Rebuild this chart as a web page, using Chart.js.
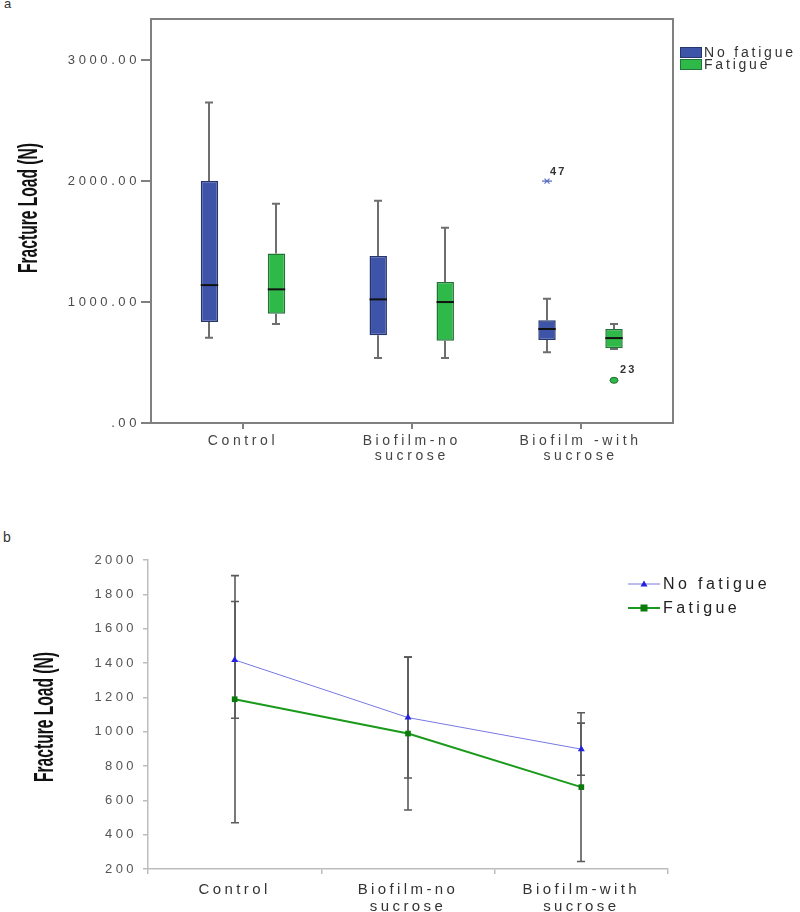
<!DOCTYPE html>
<html><head><meta charset="utf-8">
<script src="https://cdn.jsdelivr.net/npm/chart.js@4/dist/chart.umd.min.js"></script>
<style>
html,body{margin:0;padding:0;background:#fff;width:800px;height:912px;overflow:hidden;position:relative;}
canvas{position:absolute;left:0;}
#ca{top:0;} #cb{top:520px;}
.lab{position:absolute;font-family:Arial,'Liberation Sans',sans-serif;color:#333;letter-spacing:1px;}
</style></head>
<body>
<div class="lab" style="left:4px;top:-4px;font-size:13px;">a</div>
<div class="lab" style="left:3px;top:529px;font-size:14px;">b</div>
<canvas id="ca" width="800" height="470" style="width:800px;height:470px"></canvas>
<canvas id="cb" width="800" height="392" style="width:800px;height:392px"></canvas>
<script>
// ---------- data ----------
const seriesNames = ['No fatigue', 'Fatigue'];
const boxCategoryLabels = [['Control'], ['Biofilm-no', 'sucrose'], ['Biofilm -with', 'sucrose']];
const lineCategoryLabels = [['Control'], ['Biofilm-no', 'sucrose'], ['Biofilm-with', 'sucrose']];

// panel a: box plot (Fracture Load, N)
const noFatigueMin    = [705, 537, 584];
const noFatigueQ1     = [835, 725, 686];
const noFatigueMedian = [1140, 1022, 777];
const noFatigueQ3     = [2000, 1380, 849];
const noFatigueMax    = [2650, 1837, 1027];
const fatigueMin      = [818, 537, 612];
const fatigueQ1       = [903, 680, 617];
const fatigueMedian   = [1105, 1000, 702];
const fatigueQ3       = [1402, 1165, 777];
const fatigueMax      = [1812, 1614, 818];
const outlierSeries   = [0, 1];
const outlierCategory = [2, 2];
const outlierValues   = [2000, 353];
const outlierCases    = ['47', '23'];
const outlierKinds    = ['extreme', 'outlier'];
const boxTicks        = [0, 1000, 2000, 3000];

// panel b: means with error bars
const meanNoFatigue = [1418, 1082, 898];
const meanFatigue   = [1189, 989, 677];
const errNoFatigue  = [340, 352, 152];
const errFatigue    = [720, 445, 433];
const lineTicks     = [200, 400, 600, 800, 1000, 1200, 1400, 1600, 1800, 2000];

// ---------- helpers ----------
const FONT = "Arial, 'Liberation Sans', sans-serif";
Chart.defaults.font.family = FONT;

function spacingPlugin(sp) {
  return {
    id: 'spacing',
    afterInit(c) { c.ctx.letterSpacing = sp; },
    beforeUpdate(c) { c.ctx.letterSpacing = sp; },
    beforeDraw(c) { c.ctx.letterSpacing = sp; }
  };
}
function fixAxis(size) {
  return s => {
    if (s.isHorizontal()) s.height = size; else s.width = size;
    s.paddingTop = 0; s.paddingBottom = 0; s.paddingLeft = 0; s.paddingRight = 0;
  };
}
function yTitlePlugin(text, cx, cy, len, across) {
  return {
    id: 'ytitle',
    afterDraw(chart) {
      const ctx = chart.ctx;
      ctx.save();
      ctx.letterSpacing = '0px';
      ctx.font = 'bold 16px ' + FONT;
      const w = ctx.measureText(text).width;
      ctx.translate(cx, cy);
      ctx.rotate(-Math.PI / 2);
      ctx.scale(len / w, across);
      ctx.fillStyle = '#111';
      ctx.textAlign = 'center';
      ctx.textBaseline = 'middle';
      ctx.fillText(text, 0, 0);
      ctx.restore();
    }
  };
}

// ---------- chart a ----------
const boxStats = [
  {min: noFatigueMin, q1: noFatigueQ1, med: noFatigueMedian, q3: noFatigueQ3, max: noFatigueMax},
  {min: fatigueMin, q1: fatigueQ1, med: fatigueMedian, q3: fatigueQ3, max: fatigueMax}
];
const boxColors = ['#3e54a8', '#2fb948'];
const boxBorders = ['#25356e', '#22733a'];

const boxExtras = {
  id: 'boxExtras',
  beforeDatasetsDraw(chart) {
    const ctx = chart.ctx, ys = chart.scales.y;
    ctx.save();
    ctx.strokeStyle = '#6e6e6e';
    ctx.lineWidth = 2;
    boxStats.forEach((st, d) => {
      chart.getDatasetMeta(d).data.forEach((bar, i) => {
        const x = Math.round(bar.x);
        const yMax = ys.getPixelForValue(st.max[i]), yQ3 = ys.getPixelForValue(st.q3[i]);
        const yMin = ys.getPixelForValue(st.min[i]), yQ1 = ys.getPixelForValue(st.q1[i]);
        ctx.beginPath();
        ctx.moveTo(x, yQ3); ctx.lineTo(x, yMax);
        ctx.moveTo(x - 4, yMax); ctx.lineTo(x + 4, yMax);
        ctx.moveTo(x, yQ1); ctx.lineTo(x, yMin);
        ctx.moveTo(x - 4, yMin); ctx.lineTo(x + 4, yMin);
        ctx.stroke();
      });
    });
    ctx.restore();
  },
  afterDatasetsDraw(chart) {
    const ctx = chart.ctx, ys = chart.scales.y, a = chart.chartArea;
    ctx.save();
    // medians
    ctx.strokeStyle = '#111';
    ctx.lineWidth = 2;
    boxStats.forEach((st, d) => {
      chart.getDatasetMeta(d).data.forEach((bar, i) => {
        const y = ys.getPixelForValue(st.med[i]);
        ctx.beginPath();
        ctx.moveTo(bar.x - bar.width / 2, y);
        ctx.lineTo(bar.x + bar.width / 2, y);
        ctx.stroke();
      });
    });
    // outliers
    outlierValues.forEach((v, k) => {
      const bar = chart.getDatasetMeta(outlierSeries[k]).data[outlierCategory[k]];
      const x = bar.x, y = ys.getPixelForValue(v);
      if (outlierKinds[k] === 'extreme') {
        ctx.strokeStyle = '#5a6fc0';
        ctx.lineWidth = 1.2;
        ctx.beginPath();
        ctx.moveTo(x - 5, y); ctx.lineTo(x + 5, y);
        ctx.moveTo(x - 2.5, y - 2.5); ctx.lineTo(x + 2.5, y + 2.5);
        ctx.moveTo(x + 2.5, y - 2.5); ctx.lineTo(x - 2.5, y + 2.5);
        ctx.stroke();
        ctx.fillStyle = '#333';
        ctx.font = 'bold 11px ' + FONT;
        ctx.textAlign = 'left';
        ctx.textBaseline = 'middle';
        ctx.letterSpacing = '2px';
        ctx.fillText(outlierCases[k], x + 3, y - 9);
      } else {
        ctx.fillStyle = boxColors[outlierSeries[k]];
        ctx.strokeStyle = '#1f6b33';
        ctx.lineWidth = 1;
        ctx.beginPath();
        ctx.ellipse(x, y, 4, 3, 0, 0, Math.PI * 2);
        ctx.fill(); ctx.stroke();
        ctx.fillStyle = '#333';
        ctx.font = 'bold 11px ' + FONT;
        ctx.textAlign = 'left';
        ctx.textBaseline = 'middle';
        ctx.letterSpacing = '2px';
        ctx.fillText(outlierCases[k], x + 6, y - 10);
      }
    });
    // frame
    ctx.strokeStyle = '#808080';
    ctx.lineWidth = 2;
    ctx.strokeRect(a.left, a.top, a.right - a.left, a.bottom - a.top);
    ctx.restore();
  },
  afterDraw(chart) {
    const ctx = chart.ctx, a = chart.chartArea;
    ctx.save();
    const lx = a.right + 7, ly = 47;
    seriesNames.forEach((name, i) => {
      const y = ly + i * 12;
      ctx.fillStyle = boxColors[i];
      ctx.fillRect(lx, y, 22, 11);
      ctx.strokeStyle = boxBorders[i];
      ctx.lineWidth = 1;
      ctx.strokeRect(lx + 0.5, y + 0.5, 21, 10);
      ctx.fillStyle = '#333';
      ctx.font = '14px ' + FONT;
      ctx.letterSpacing = '2.8px';
      ctx.textAlign = 'left';
      ctx.textBaseline = 'middle';
      ctx.fillText(name, lx + 24, y + 6);
    });
    ctx.restore();
  }
};

new Chart(document.getElementById('ca'), {
  type: 'bar',
  data: {
    datasets: seriesNames.map((name, d) => ({
      label: name,
      data: boxStats[d].q1.map((q1, i) => ({x: i, y: [q1, boxStats[d].q3[i]]})),
      backgroundColor: boxColors[d],
      borderColor: boxBorders[d],
      borderWidth: 1.5,
      borderSkipped: false,
      categoryPercentage: 0.794,
      barPercentage: 0.26
    }))
  },
  options: {
    responsive: false,
    animation: false,
    events: [],
    layout: {padding: {left: 0, top: 19, right: 127, bottom: 0}},
    plugins: {legend: {display: false}, tooltip: {enabled: false}},
    scales: {
      x: {
        type: 'linear',
        min: -0.545, max: 2.548,
        offset: false,
        afterBuildTicks: s => { s.ticks = boxCategoryLabels.map((c, i) => ({value: i})); },
        afterFit: fixAxis(47),
        border: {display: false},
        grid: {display: true, drawOnChartArea: false, offset: false, tickLength: 6, color: '#808080', lineWidth: 2},
        ticks: {
          callback: v => boxCategoryLabels[v],
          color: '#444',
          font: {size: 14, lineHeight: 1.1},
          padding: 4,
          maxRotation: 0,
          autoSkip: false
        }
      },
      y: {
        min: 0, max: 3340,
        afterBuildTicks: s => { s.ticks = boxTicks.map(v => ({value: v})); },
        afterFit: fixAxis(151),
        border: {display: false},
        grid: {display: true, drawOnChartArea: false, tickLength: 10, color: '#808080', lineWidth: 2},
        ticks: {
          callback: v => (v === 0 ? '.00' : v.toFixed(2)),
          color: '#4a4a4a',
          font: {size: 13},
          padding: 1
        }
      }
    }
  },
  plugins: [spacingPlugin('3.6px'), boxExtras, yTitlePlugin('Fracture Load (N)', 29, 208, 130, 1.75)]
});

// ---------- chart b ----------
const lineMeans = [meanNoFatigue, meanFatigue];
const lineErrs = [errNoFatigue, errFatigue];
const lineColors = ['#7878e4', '#1a9a1a'];
const markerColors = ['#2323dd', '#0a7a0a'];
const markerStyles = ['triangle', 'rect'];

const errorBars = {
  id: 'errorBars',
  beforeDatasetsDraw(chart) {
    const ctx = chart.ctx, ys = chart.scales.y;
    ctx.save();
    ctx.strokeStyle = '#5a5a5a';
    ctx.lineWidth = 1.6;
    lineMeans.forEach((means, d) => {
      chart.getDatasetMeta(d).data.forEach((pt, i) => {
        const x = Math.round(pt.x);
        const yHi = ys.getPixelForValue(means[i] + lineErrs[d][i]);
        const yLo = ys.getPixelForValue(means[i] - lineErrs[d][i]);
        ctx.beginPath();
        ctx.moveTo(x, yHi); ctx.lineTo(x, yLo);
        ctx.moveTo(x - 4, yHi); ctx.lineTo(x + 4, yHi);
        ctx.moveTo(x - 4, yLo); ctx.lineTo(x + 4, yLo);
        ctx.stroke();
      });
    });
    ctx.restore();
  },
  afterDraw(chart) {
    const ctx = chart.ctx, a = chart.chartArea;
    ctx.save();
    const x0 = a.right - 40, x1 = a.right - 8;
    seriesNames.forEach((name, d) => {
      const y = 64 + d * 24;
      ctx.strokeStyle = lineColors[d];
      ctx.lineWidth = d === 0 ? 1 : 2;
      ctx.beginPath(); ctx.moveTo(x0, y); ctx.lineTo(x1, y); ctx.stroke();
      const mx = (x0 + x1) / 2;
      ctx.fillStyle = markerColors[d];
      if (markerStyles[d] === 'triangle') {
        ctx.beginPath();
        ctx.moveTo(mx, y - 3.5); ctx.lineTo(mx + 3.5, y + 2.5); ctx.lineTo(mx - 3.5, y + 2.5);
        ctx.closePath(); ctx.fill();
      } else {
        ctx.fillRect(mx - 3.5, y - 3.5, 7, 7);
      }
      ctx.fillStyle = '#222';
      ctx.font = '16px ' + FONT;
      ctx.textAlign = 'left';
      ctx.textBaseline = 'middle';
      ctx.fillText(name, x1 + 3, y + 1);
    });
    ctx.restore();
  }
};

new Chart(document.getElementById('cb'), {
  type: 'line',
  data: {
    labels: lineCategoryLabels,
    datasets: seriesNames.map((name, d) => ({
      label: name,
      data: lineMeans[d],
      borderColor: lineColors[d],
      borderWidth: d === 0 ? 1 : 2,
      pointStyle: markerStyles[d],
      pointRadius: 4,
      pointBackgroundColor: markerColors[d],
      pointBorderColor: markerColors[d],
      pointBorderWidth: 0,
      tension: 0,
      fill: false
    }))
  },
  options: {
    responsive: false,
    animation: false,
    events: [],
    layout: {padding: {left: 0, top: 40, right: 132, bottom: 0}},
    plugins: {legend: {display: false}, tooltip: {enabled: false}},
    scales: {
      x: {
        offset: true,
        afterFit: fixAxis(43),
        border: {display: true, color: '#bdbdbd', width: 1.5},
        grid: {display: true, drawOnChartArea: false, offset: true, tickLength: 5, color: '#bdbdbd', lineWidth: 1.5},
        ticks: {color: '#333', font: {size: 15, lineHeight: 1.13}, padding: 7, maxRotation: 0, autoSkip: false}
      },
      y: {
        min: 200, max: 2000,
        afterBuildTicks: s => { s.ticks = lineTicks.map(v => ({value: v})); },
        afterFit: fixAxis(148),
        border: {display: true, color: '#bdbdbd', width: 1.5},
        grid: {display: true, drawOnChartArea: false, tickLength: 5, color: '#bdbdbd', lineWidth: 1.5},
        ticks: {color: '#555', font: {size: 13}, padding: 6, callback: v => String(v)}
      }
    }
  },
  plugins: [spacingPlugin('3.4px'), errorBars, yTitlePlugin('Fracture Load (N)', 45, 197, 130, 1.75)]
});
</script>
</body></html>
